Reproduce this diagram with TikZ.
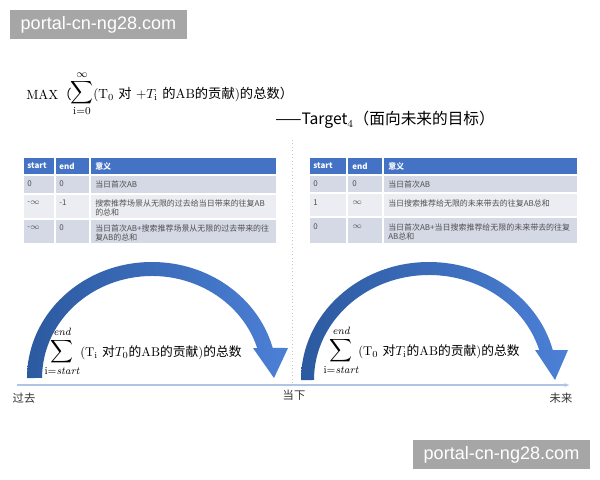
\documentclass[tikz,border=0pt]{standalone}
\usepackage{amsmath}
\usepackage{fontspec}
\newfontfamily\cjk{Noto Sans CJK SC}
\newfontfamily\wmsans{Liberation Sans}
\usetikzlibrary{arrows.meta,positioning}
\definecolor{hdrblue}{HTML}{4472C4}
\definecolor{rowdark}{HTML}{D5D9E6}
\definecolor{rowlight}{HTML}{EBEDF3}
\definecolor{celltext}{HTML}{505050}
\definecolor{arcdark}{HTML}{2C5AA0}
\definecolor{arclight}{HTML}{4C80D6}
\definecolor{axisblue}{HTML}{B0C4E6}
\definecolor{wmgray}{HTML}{A6A6A6}
\tikzset{
  wm/.style={fill=wmgray,text=white,font=\wmsans\fontsize{13.6}{16}\selectfont,minimum width=133bp,minimum height=22bp,inner sep=0pt},
  hdr/.style={anchor=west,inner sep=0pt,text=white,font=\cjk\bfseries\fontsize{6}{7}\selectfont},
  cell/.style={anchor=west,inner sep=0pt,text=celltext,align=left,font=\cjk\fontsize{6}{6.75}\selectfont},
  cellbox/.style={draw=white,line width=1bp},
  blockarc/.style={left color=arcdark,right color=arclight},
  timeaxis/.style={axisblue,line width=0.9bp,-{Latex[length=4bp,width=3bp]}},
  timelabel/.style={inner sep=0pt,font=\cjk\fontsize{8.5}{10}\selectfont,text=black!80},
  sumlabel/.style={anchor=west,inner sep=0pt,font=\fontsize{9.6}{12}\selectfont},
  sigma/.style={inner sep=0pt,font=\fontsize{12.5}{14}\selectfont},
  limit/.style={inner sep=0pt,font=\fontsize{8}{9}\selectfont},
}
\begin{document}
\begin{tikzpicture}[x=0.75bp,y=-0.75bp]
\fill[white] (0,0) rectangle (600,480);
\useasboundingbox (0,0) rectangle (600,480);
%%
\node (wmtop) at (98.5,24.5) [wm] {portal-cn-ng28.com};
\node (wmbot) at (501.5,454.5) [wm] {portal-cn-ng28.com};
%% title
\node (titlemax) at (26,94) [sumlabel,font=\fontsize{10}{12}\selectfont] {MAX{\cjk （}};
\node (titlesig) at (82,93) [sigma,font=\fontsize{11.5}{13}\selectfont] {$\displaystyle\sum$};
\node (titleinf) [limit,above=1.5bp of titlesig] {$\infty$};
\node (titlei) [limit,below=1bp of titlesig] {$\mathrm{i}{=}0$};
\node (titletext) at (93,94) [sumlabel,font=\fontsize{10}{12}\selectfont] {(T$_0$ {\cjk 对} +$T_{\mathrm{i}}$ {\cjk 的}AB{\cjk 的贡献})\kern0pt{\cjk 的总数）}};
\node (target) at (275,120) [anchor=west,inner sep=0pt,font=\cjk\fontsize{11.8}{13}\selectfont] {——Target$_4$（面向未来的目标）};
%
\coordinate (nowtop) at (292,140);
\coordinate (nowbot) at (292,388);
\draw [gray!45,dotted,line width=0.6bp] (nowtop) -- (nowbot);
%% left table
\path [cellbox,fill=hdrblue] (23,157) rectangle (55,175) (55,157) rectangle (90,175) (90,157) rectangle (277,175);
\path [cellbox,fill=rowdark] (23,175) rectangle (55,194) (55,175) rectangle (90,194) (90,175) rectangle (277,194);
\path [cellbox,fill=rowlight] (23,194) rectangle (55,219) (55,194) rectangle (90,219) (90,194) rectangle (277,219);
\path [cellbox,fill=rowdark] (23,219) rectangle (55,244) (55,219) rectangle (90,244) (90,219) rectangle (277,244);
\node (ls) at (27,166) [hdr] {start};
\node (le) at (59,166) [hdr] {end};
\node (lm) at (95,166) [hdr] {意义};
\node (ls1) at (27,184) [cell] {0};
\node (le1) at (59,184) [cell] {0};
\node (lm1) at (95,184) [cell] {当日首次AB};
\node (ls2) at (27,203) [cell] {-$\infty$};
\node (le2) at (59,203) [cell] {-1};
\node (lm2) at (95,207.5) [cell] {搜索推荐场景从无限的过去给当日带来的往复AB\\的总和};
\node (ls3) at (27,228) [cell] {-$\infty$};
\node (le3) at (59,228) [cell] {0};
\node (lm3) at (95,232.5) [cell] {当日首次AB+搜索推荐场景从无限的过去带来的往\\复AB的总和};
%% right table
\path [cellbox,fill=hdrblue] (309,157) rectangle (347,175) (347,157) rectangle (383,175) (383,157) rectangle (578,175);
\path [cellbox,fill=rowdark] (309,175) rectangle (347,193) (347,175) rectangle (383,193) (383,175) rectangle (578,193);
\path [cellbox,fill=rowlight] (309,193) rectangle (347,217) (347,193) rectangle (383,217) (383,193) rectangle (578,217);
\path [cellbox,fill=rowdark] (309,217) rectangle (347,244) (347,217) rectangle (383,244) (383,217) rectangle (578,244);
\node (rs) at (313,166) [hdr] {start};
\node (re) at (352,166) [hdr] {end};
\node (rm) at (388,166) [hdr] {意义};
\node (rs1) at (313,184) [cell] {0};
\node (re1) at (352,184) [cell] {0};
\node (rm1) at (388,184) [cell] {当日首次AB};
\node (rs2) at (313,203) [cell] {1};
\node (re2) at (352,203) [cell] {$\infty$};
\node (rm2) at (388,203) [cell] {当日搜索推荐给无限的未来带去的往复AB总和};
\node (rs3) at (313,227) [cell] {0};
\node (re3) at (352,227) [cell] {$\infty$};
\node (rm3) at (388,232) [cell] {当日首次AB+当日搜索推荐给无限的未来带去的往复\\AB总和};
%% arcs
\shade [blockarc] (27,378) arc [start angle=180,end angle=345,x radius=125,y radius=116]
  -- (288,348) -- (274,378) -- (253,348) -- (257.2,348)
  arc [start angle=342.9,end angle=180,x radius=110,y radius=102] -- cycle;
\shade [blockarc] (301,380) arc [start angle=180,end angle=345.3,x radius=128,y radius=118]
  -- (568,350) -- (555,380) -- (535,350) -- (539.2,350)
  arc [start angle=343.4,end angle=180,x radius=115,y radius=105] -- cycle;
%% sums
\node (pastsig) at (62,352) [sigma] {$\displaystyle\sum$};
\node (pastend) [limit,above=2.5bp of pastsig] {$\mathit{end}$};
\node (paststart) [limit,below=1.5bp of pastsig] {$\mathrm{i}{=}\mathit{start}$};
\node (pasttext) at (80,353) [sumlabel] {(T$_{\mathrm{i}}$ {\cjk 对}$T_0${\cjk 的}AB{\cjk 的贡献})\kern0pt{\cjk 的总数}};
\node (futsig) at (341,351) [sigma] {$\displaystyle\sum$};
\node (futend) [limit,above=2.5bp of futsig] {$\mathit{end}$};
\node (futstart) [limit,below=1.5bp of futsig] {$\mathrm{i}{=}\mathit{start}$};
\node (futtext) at (358,352) [sumlabel] {(T$_0$ {\cjk 对}$T_{\mathrm{i}}${\cjk 的}AB{\cjk 的贡献})\kern0pt{\cjk 的总数}};
%% time axis
\coordinate (axstart) at (17,385);
\coordinate (axend) at (570,385);
\draw [timeaxis] (axstart) -- (axend);
\node (past) at (24,398) [timelabel] {过去};
\node (now) at (294,395) [timelabel] {当下};
\node (future) at (561,398) [timelabel] {未来};
%
\end{tikzpicture}
\end{document}
